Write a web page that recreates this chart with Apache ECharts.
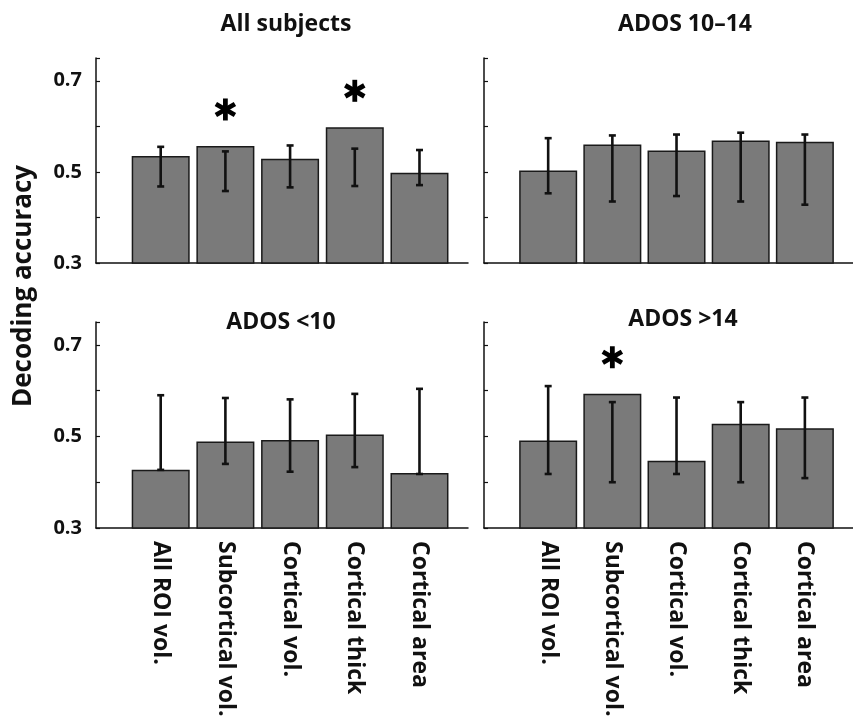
<!DOCTYPE html>
<html><head><meta charset="utf-8">
<script src="https://cdn.jsdelivr.net/npm/echarts@6/dist/echarts.min.js"></script>
<style>html,body{margin:0;padding:0;background:#fff}#c{width:853px;height:721px}</style>
</head><body><div id="c"></div>
<script>
const categories = ['All ROI vol.', 'Subcortical vol.', 'Cortical vol.', 'Cortical thick', 'Cortical area'];
const panelTitles = ['All subjects', 'ADOS 10–14', 'ADOS <10', 'ADOS >14'];
const yTickLabels = ['0.3', '0.5', '0.7'];

const allMean = [0.535, 0.557, 0.529, 0.598, 0.498];
const allLow  = [0.468, 0.458, 0.466, 0.469, 0.471];
const allHigh = [0.555, 0.545, 0.558, 0.551, 0.548];
const allSig  = [0, 1, 0, 1, 0];

const midMean = [0.503, 0.560, 0.547, 0.569, 0.566];
const midLow  = [0.453, 0.435, 0.447, 0.435, 0.428];
const midHigh = [0.574, 0.580, 0.582, 0.586, 0.582];
const midSig  = [0, 0, 0, 0, 0];

const lowMean = [0.427, 0.489, 0.492, 0.504, 0.420];
const lowLow  = [0.427, 0.440, 0.423, 0.433, 0.418];
const lowHigh = [0.590, 0.584, 0.581, 0.593, 0.604];
const lowSig  = [0, 0, 0, 0, 0];

const highMean = [0.491, 0.593, 0.447, 0.528, 0.518];
const highLow  = [0.418, 0.400, 0.418, 0.400, 0.409];
const highHigh = [0.610, 0.575, 0.585, 0.575, 0.585];
const highSig  = [0, 1, 0, 0, 0];

const panels = [
  {mean: allMean, low: allLow, high: allHigh, sig: allSig},
  {mean: midMean, low: midLow, high: midHigh, sig: midSig},
  {mean: lowMean, low: lowLow, high: lowHigh, sig: lowSig},
  {mean: highMean, low: highLow, high: highHigh, sig: highSig}
];

const FONT = '"Open Sans", "Noto Sans", sans-serif';
const grids = [
  {left: 96, top: 58, width: 372, height: 205},
  {left: 484, top: 58, width: 372, height: 205},
  {left: 96, top: 322, width: 372, height: 206},
  {left: 484, top: 322, width: 372, height: 206}
];

const xAxes = [], yAxes = [], series = [];
panels.forEach((p, i) => {
  const bottom = i >= 2;
  xAxes.push({
    type: 'value', gridIndex: i, min: 0, max: 5.75, interval: 1,
    axisLine: {show: true, lineStyle: {color: '#111', width: 1.5}},
    axisTick: {show: false}, splitLine: {show: false},
    axisLabel: {
      show: bottom, rotate: -90, margin: 13,
      fontFamily: FONT, fontWeight: 'bold', fontSize: 23, color: '#111',
      formatter: v => (Number.isInteger(v) && v >= 1 && v <= 5) ? categories[v - 1] : ''
    }
  });
  yAxes.push({
    type: 'value', gridIndex: i, min: 0.3, max: 0.75, interval: 0.1,
    axisLine: {show: true, lineStyle: {color: '#111', width: 1.5}},
    axisTick: {show: true, inside: true, length: 4, lineStyle: {color: '#111', width: 1.2}},
    splitLine: {show: false},
    axisLabel: {
      show: i % 2 === 0, margin: 14,
      fontFamily: FONT, fontWeight: 'bold', fontSize: 20, color: '#111',
      formatter: v => {
        const s = (Math.round(v * 10) / 10).toFixed(1);
        return yTickLabels.indexOf(s) >= 0 && Math.abs(v - parseFloat(s)) < 1e-6 ? s : '';
      }
    }
  });
  series.push({
    type: 'bar', xAxisIndex: i, yAxisIndex: i, barWidth: 58,
    data: p.mean.map((v, k) => [k + 1, v]),
    itemStyle: {color: '#7a7a7a', borderColor: '#1a1a1a', borderWidth: 1.5},
    silent: true
  });
  series.push({
    type: 'custom', xAxisIndex: i, yAxisIndex: i, z: 5, silent: true,
    data: p.mean.map((v, k) => [k + 1, p.low[k], p.high[k]]),
    renderItem: (params, api) => {
      const x = api.value(0);
      const a = api.coord([x, api.value(1)]);
      const b = api.coord([x, api.value(2)]);
      const w = 3.5;
      const st = {stroke: '#111', lineWidth: 2.6};
      return {type: 'group', children: [
        {type: 'line', shape: {x1: a[0], y1: a[1], x2: b[0], y2: b[1]}, style: st},
        {type: 'line', shape: {x1: a[0] - w, y1: a[1], x2: a[0] + w, y2: a[1]}, style: st},
        {type: 'line', shape: {x1: b[0] - w, y1: b[1], x2: b[0] + w, y2: b[1]}, style: st}
      ]};
    }
  });
  const stars = [];
  p.sig.forEach((s, k) => { if (s) stars.push([k + 1, Math.max(p.mean[k], p.high[k]) + 0.08]); });
  series.push({
    type: 'custom', xAxisIndex: i, yAxisIndex: i, z: 6, silent: true,
    data: stars,
    renderItem: (params, api) => {
      const c = api.coord([api.value(0), api.value(1)]);
      const r = 11;
      const st = {stroke: '#000', lineWidth: 4.8};
      const kids = [0, 60, 120].map(deg => {
        const t = (deg + 90) * Math.PI / 180;
        const dx = Math.cos(t) * r, dy = Math.sin(t) * r;
        return {type: 'line', shape: {x1: c[0] - dx, y1: c[1] - dy, x2: c[0] + dx, y2: c[1] + dy}, style: st};
      });
      return {type: 'group', children: kids};
    }
  });
});

const titlePos = [[286, 24], [685, 24], [281, 322], [683, 319]];
const graphic = panelTitles.map((t, i) => ({
  type: 'text', x: titlePos[i][0], y: titlePos[i][1], silent: true,
  style: {text: t, align: 'center', verticalAlign: 'middle', font: 'bold 23px ' + FONT, fill: '#111'}
}));
graphic.push({
  type: 'text', x: 24, y: 286, rotation: Math.PI / 2, silent: true,
  style: {text: 'Decoding accuracy', align: 'center', verticalAlign: 'middle', font: 'bold 26px ' + FONT, fill: '#111'}
});

const chart = echarts.init(document.getElementById('c'));
chart.setOption({
  animation: false, backgroundColor: '#fff',
  grid: grids, xAxis: xAxes, yAxis: yAxes, series: series, graphic: graphic
});
</script></body></html>
